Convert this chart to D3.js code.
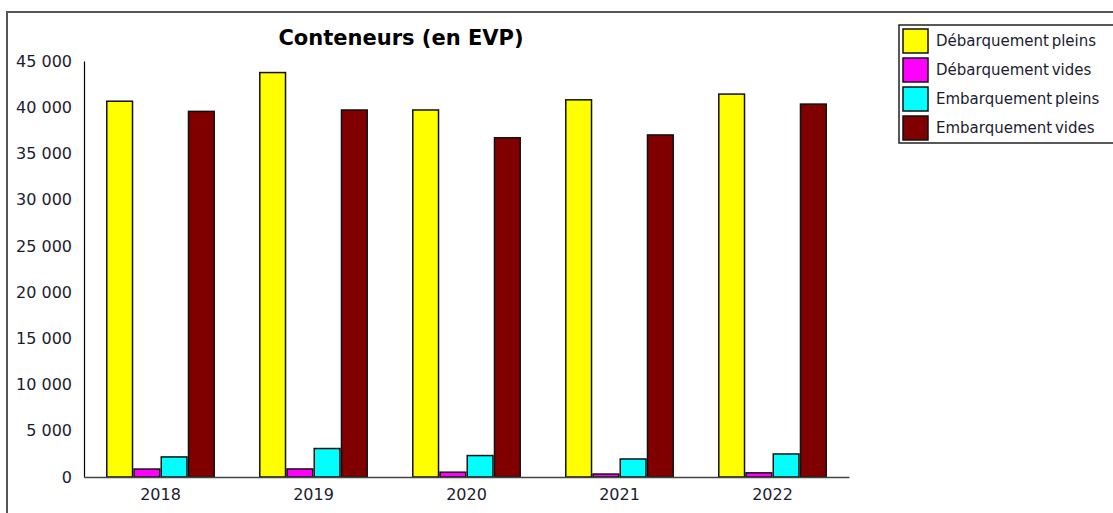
<!DOCTYPE html>
<html>
<head>
<meta charset="utf-8">
<script src="https://cdn.jsdelivr.net/npm/d3@7"></script>
<style>
  body { margin: 0; background: #fff; }
  svg { display: block; }
</style>
</head>
<body>
<div class="chart"></div>
<script>
const years = ['2018', '2019', '2020', '2021', '2022']
const series = ['Débarquement pleins', 'Débarquement vides', 'Embarquement pleins', 'Embarquement vides']
const colors = ['#ffff00', '#ff00ff', '#00ffff', '#800000']

// values per series, one per year
const debPleins = [40650, 43750, 39700, 40800, 41420]
const debVides = [860, 870, 520, 320, 450]
const embPleins = [2170, 3080, 2320, 1950, 2490]
const embVides = [39550, 39700, 36700, 37000, 40340]
const yTicks = [0, 5000, 10000, 15000, 20000, 25000, 30000, 35000, 40000, 45000]

const values = [debPleins, debVides, embPleins, embVides]
const data = years.map((yr, i) => ({ year: yr, vals: values.map(s => s[i]) }))

const W = 1113, H = 513
const margin = { top: 61, left: 84, right: 264, bottom: 36 }
const font = 'DejaVu Sans, sans-serif'
const txtColor = '#1c1c30'

const svg = d3.select('.chart').append('svg')
  .attr('width', W).attr('height', H)

// outer frame
svg.append('rect')
  .attr('x', 7).attr('y', 12)
  .attr('width', W).attr('height', H)
  .attr('fill', 'none').attr('stroke', '#555').attr('stroke-width', 2)

const x = d3.scaleBand()
  .domain(years)
  .range([margin.left, W - margin.right])
  .paddingInner(0.288).paddingOuter(0.144)

const xs = d3.scaleBand()
  .domain(d3.range(series.length))
  .range([0, x.bandwidth()])

const y = d3.scaleLinear()
  .domain([0, 45000])
  .range([H - margin.bottom, margin.top])

const loc = d3.formatLocale({ decimal: ',', thousands: ' ', grouping: [3], currency: ['', ' €'] })
const fmt = loc.format(',d')

// title
svg.append('text')
  .attr('x', 401).attr('y', 45)
  .attr('text-anchor', 'middle')
  .attr('font-family', font)
  .attr('font-weight', 'bold')
  .attr('font-size', 21)
  .attr('fill', '#000')
  .text('Conteneurs (en EVP)')

// y axis
const yAxis = d3.axisLeft(y).tickValues(yTicks).tickSize(0).tickPadding(12).tickFormat(fmt)
const gy = svg.append('g')
  .attr('transform', `translate(${margin.left},0)`)
  .call(yAxis)
gy.select('.domain').attr('stroke', '#000').attr('stroke-width', 1.2)
gy.selectAll('text')
  .attr('font-family', font)
  .attr('font-size', 16)
  .attr('fill', txtColor)

// bars
const groups = svg.selectAll('.grp')
  .data(data)
  .enter().append('g')
  .attr('class', 'grp')
  .attr('transform', d => `translate(${x(d.year)},0)`)

groups.selectAll('rect')
  .data(d => d.vals.map((v, k) => ({ v, k })))
  .enter().append('rect')
  .attr('x', d => xs(d.k) + 0.75)
  .attr('y', d => y(d.v))
  .attr('width', xs.bandwidth() - 1.5)
  .attr('height', d => y(0) - y(d.v))
  .attr('fill', d => colors[d.k])
  .attr('stroke', '#111')
  .attr('stroke-width', 1.5)

// x axis
const xAxis = d3.axisBottom(x).tickSize(0).tickPadding(12)
const gx = svg.append('g')
  .attr('transform', `translate(0,${y(0)})`)
  .call(xAxis)
gx.select('.domain').attr('stroke', '#444').attr('stroke-width', 1.5)
gx.selectAll('text')
  .attr('font-family', font)
  .attr('font-size', 16)
  .attr('fill', txtColor)

// legend
const lg = svg.append('g').attr('transform', 'translate(899,25)')
lg.append('rect')
  .attr('x', 0).attr('y', 0)
  .attr('width', 230).attr('height', 118)
  .attr('fill', '#fff').attr('stroke', '#222').attr('stroke-width', 1.5)

const items = lg.selectAll('.item')
  .data(series)
  .enter().append('g')
  .attr('class', 'item')
  .attr('transform', (d, i) => `translate(4,${4 + i * 29})`)

items.append('rect')
  .attr('width', 25).attr('height', 24)
  .attr('fill', (d, i) => colors[i])
  .attr('stroke', '#111').attr('stroke-width', 1.5)

items.append('text')
  .attr('x', 33).attr('y', 12)
  .attr('dominant-baseline', 'middle')
  .attr('font-family', font)
  .attr('font-size', 15)
  .attr('word-spacing', -2)
  .attr('fill', txtColor)
  .text(d => d)
</script>
</body>
</html>
